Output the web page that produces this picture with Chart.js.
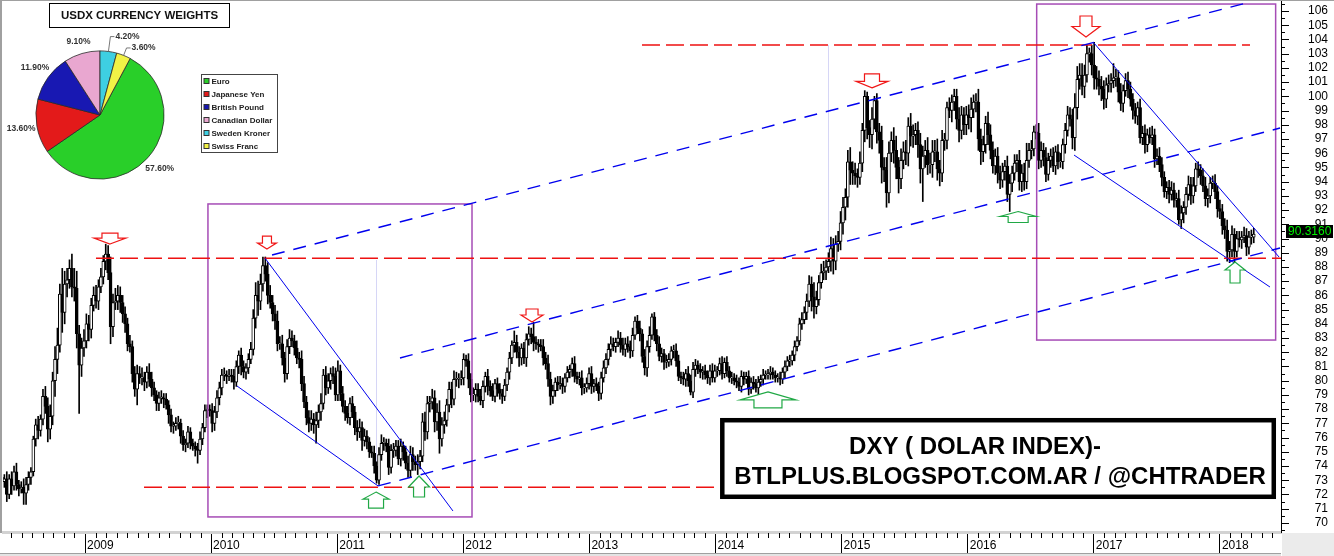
<!DOCTYPE html>
<html>
<head>
<meta charset="utf-8">
<title>DXY weekly</title>
<script src="https://cdn.jsdelivr.net/npm/chart.js@4.4.0/dist/chart.umd.min.js"></script>
<style>
  html, body { margin: 0; padding: 0; background: #fff; }
  #wrap { position: relative; width: 1334px; height: 556px; overflow: hidden; }
  #dxy { position: absolute; left: 0; top: 0; width: 1334px; height: 556px; }
  #weights { position: absolute; left: 0; top: 0; width: 300px; height: 190px; }
</style>
</head>
<body>
<div id="wrap">
  <canvas id="dxy" width="1334" height="556"></canvas>
  <canvas id="weights" width="300" height="190"></canvas>
</div>
<script>
// ---- data ---------------------------------------------------------------
// weekly candles, first bar is the week of 5 May 2008
const firstWeek = '2008-05-05';
const firstOpen = 73.2;

// weekly closes, one line per year
const weeklyClose = [
  72.9,73.1,72.0,73.1, 72.6,73.6,72.7,72.4, 72.5,72.1,72.7,73.2, 73.6,75.9,76.9,76.5,77.3, 78.9,78.2,76.6,77.5, 80.0,81.5,82.5,86.1,84.8, 86.8,87.1,87.9,86.6, 86.5,83.3,81.1,82.3,
  82.8,84.0,83.6,85.3,86.0, 85.6,86.6,87.3,88.4, 88.9,87.6,83.8,85.5, 85.6,86.0,85.5,84.7, 84.0,82.6,82.4,80.5,79.4, 80.5,80.2,80.2,79.9, 80.6,80.1,79.5,79.0,78.4, 78.8,78.8,78.7,78.3, 77.6,76.8,76.8,77.0, 77.0,76.1,75.5,75.6,76.4, 75.6,75.4,75.2,75.1, 75.9,76.7,77.9,78.0,
  77.9,77.0,77.8,78.8,79.5, 80.4,80.4,80.3,80.4, 80.3,79.9,81.0,81.8, 81.0,80.6,80.9,81.5,82.2, 84.4,86.0,85.6,86.8, 88.1,87.5,86.0,85.5, 84.7,84.2,82.6,82.6,81.6, 80.5,82.4,83.0,82.8, 82.3,81.6,81.5,79.8, 78.5,77.4,77.0,77.3,76.9, 77.2,77.8,78.4,80.4, 79.5,80.0,80.5,80.3,79.0,
  80.7,79.1,78.2,77.7, 77.4,78.4,77.8,76.7, 76.4,76.7,75.8,76.1, 75.7,75.0,74.9,74.0,73.0, 74.8,75.6,75.6,75.4, 73.9,75.1,75.1,75.4, 74.5,75.4,75.0,74.2,73.7, 74.8,74.3,74.1,74.3, 74.7,77.1,76.4,78.4,78.5, 78.8,77.1,77.8,75.9, 76.9,77.2,78.3,79.4, 78.7,80.1,80.1,80.1,80.2,
  81.5,81.4,80.1,79.0, 79.0,79.4,78.9,78.6, 79.6,80.3,79.6,79.3,78.9, 79.8,79.4,79.1,78.9, 79.7,80.6,81.6,82.5, 82.7,82.0,81.6,82.3,81.6, 82.9,83.3,83.1,82.7, 82.6,82.5,82.4,81.6,81.2, 80.1,78.9,79.3,79.9, 79.7,79.8,79.6,80.2, 80.6,80.8,81.2,80.3,80.1, 80.2,79.5,79.5,79.8,
  80.5,79.6,79.8,79.6, 79.1,80.2,80.9,81.5, 82.2,82.6,82.4,82.7,83.0, 82.5,82.2,82.6,82.4, 82.1,83.2,84.2,83.7,83.3, 81.7,80.9,82.4,83.2, 84.5,83.2,82.6,81.7, 81.9,81.3,81.3,81.5,82.1, 82.1,81.4,80.3,80.2, 80.1,80.5,80.0,79.2, 80.8,81.1,80.8,80.6,80.7, 80.4,80.2,80.7,80.2,
  80.7,80.7,81.2,80.5,81.3, 80.7,80.2,80.2,80.0, 79.9,79.6,80.3,80.1, 80.3,79.4,79.9,79.8, 79.5,79.9,80.1,80.4,80.4, 80.5,80.6,80.4,80.2, 80.2,80.1,80.6,81.0, 81.4,81.4,81.8,82.4,82.8, 84.0,84.3,84.8,85.6, 86.8,85.9,85.2,85.7,86.9, 87.6,87.7,88.0,88.4, 89.3,88.4,89.6,89.8,
  91.1,92.2,92.9,95.4,94.8, 94.6,94.4,94.3,95.3, 97.6,100.0,97.8,97.3, 98.4,99.7,97.5,96.9, 95.0,94.8,93.2,96.0,96.9, 96.2,95.0,94.2,95.5, 96.1,96.0,97.9,97.2,97.3, 97.6,96.6,94.9,95.8, 96.2,95.2,95.2,96.1, 96.1,94.9,94.6,96.9,96.9, 99.2,99.0,99.6,100.0, 98.4,97.6,98.7,98.0,
  98.7,98.5,99.1,99.6,99.6, 97.0,96.1,96.6,98.1, 97.3,96.2,95.1,95.8, 94.6,94.1,94.7,95.1,93.1, 93.9,94.6,95.3,95.5, 94.0,94.6,94.0,95.5, 96.2,96.3,97.5,97.4,95.5, 96.2,95.7,94.5,95.5, 95.8,95.1,96.1,95.4,95.4, 96.6,97.6,98.7,98.4, 97.1,99.2,101.2,101.5, 100.7,101.5,103.0,103.0,102.2,
  101.3,101.2,100.7,100.5, 99.8,100.8,100.9,101.1, 101.3,101.3,100.3,99.5,100.4, 101.1,100.5,99.8,99.0, 98.6,99.2,97.1,97.4, 96.6,97.3,97.1,97.3,95.6, 95.8,95.2,94.3,93.3, 93.6,93.1,93.4,92.7, 92.8,91.3,91.8,92.2,93.1, 93.8,93.0,93.7,94.9, 94.8,94.4,93.7,92.8, 93.0,93.9,93.9,93.3,92.1,
  91.9,90.9,90.6,89.1, 89.2,90.3,89.1,90.0, 89.9,90.1,90.2,89.4,90.1, 90.1,90.316
];

// wick above the body, tenths of a point
const wickUp = [
  4,3,5,3, 5,4,6,3, 4,6,5,4, 3,2,4,6,3, 5,7,6,8, 6,9,12,7,18, 9,8,6,10, 13,12,6,7,
  8,7,6,5,6, 7,5,6,4, 7,6,11,6, 9,7,6,5, 5,4,6,4,5, 6,5,7,4, 4,6,5,4,3, 4,5,3,4, 3,4,3,4, 5,3,4,3,4, 3,3,3,4, 5,3,4,3,
  3,5,4,5,4, 4,5,3,4, 4,5,4,3, 5,4,3,4,5, 6,9,10,7, 6,6,8,7, 5,6,7,5,6, 4,5,6,5, 4,5,4,6, 5,4,5,6,4, 6,5,7,4, 6,5,4,5,6,
  7,4,5,4, 5,4,5,4, 5,6,4,5, 4,3,4,5,3, 5,6,4,3, 5,4,5,4, 4,5,3,4,5, 6,5,4,5, 4,6,7,5,4, 6,5,6,8, 5,6,4,5, 5,6,5,4,5,
  4,3,5,4, 5,4,4,5, 4,3,5,4,5, 3,4,4,3, 4,3,4,3, 8,5,4,3,4, 4,5,4,10, 4,3,4,5,4, 6,5,4,3, 4,5,4,3, 4,3,4,5,3, 4,5,3,4,
  4,5,3,4, 3,4,5,4, 4,5,4,3,5, 4,5,4,5, 4,5,3,4,5, 3,5,4,6, 2,3,4,5, 4,3,5,4,3, 4,5,4,3, 4,3,5,4, 5,4,3,4,3, 4,3,4,5,
  4,3,4,5,3, 4,3,4,3, 4,3,4,3, 3,4,3,4, 3,4,3,4,3, 3,4,3,3, 3,4,3,4, 3,4,3,4,3, 4,5,4,5, 6,5,10,6,5, 6,7,5,6, 8,7,6,7,
  8,7,6,8,10, 6,7,5,8, 5,4,3,5, 8,3,5,6, 10,7,9,8,6, 9,10,7,8, 7,8,6,9,7, 5,6,8,7, 7,9,8,8, 8,9,6,7,5, 4,7,5,5, 5,8,6,5,
  6,7,8,5,6, 9,7,6,5, 8,7,6,5, 6,5,6,4,7, 6,5,6,4, 7,6,7,12, 5,6,4,5,7, 6,5,7,5, 5,6,4,5,6, 4,5,6,5, 7,10,9,8, 8,7,6,4,6,
  16,8,6,7, 6,5,6,5, 10,6,5,6,4, 5,6,5,4, 5,4,6,5, 6,4,5,6,4, 5,6,5,4, 4,5,6,5, 4,6,5,4,5, 6,5,6,4, 5,4,5,6, 5,4,5,6,4,
  6,5,5,7, 6,6,4,5, 5,4,6,5,4, 5,4
];

// wick below the body, tenths of a point
const wickDown = [
  3,4,5,3, 6,3,4,5, 3,8,8,4, 5,3,5,6,4, 4,5,9,7, 6,11,10,5,14, 8,9,6,7, 9,10,34,8,
  6,5,8,6,4, 5,6,4,5, 6,5,12,7, 5,6,7,6, 6,5,4,6,5, 11,4,5,6, 4,5,6,4,5, 5,4,6,3, 6,4,5,3, 4,5,4,5,3, 4,3,5,9, 3,4,3,5,
  4,6,5,4,5, 5,4,5,3, 4,5,3,5, 6,4,5,4,3, 4,7,10,6, 5,5,6,4, 5,6,5,4,5, 6,4,5,4, 5,4,6,5, 4,5,6,5,6, 13,5,6,4, 5,4,6,5,4,
  4,5,4,5, 4,5,4,5, 6,4,7,4, 5,4,3,5,2, 3,4,5,4, 5,4,5,4, 4,5,6,4,5, 5,6,4,7, 5,4,6,5,6, 5,7,6,10, 5,6,4,5, 6,4,5,6,4,
  5,4,6,5, 4,5,4,3, 5,4,6,4,3, 4,5,4,5, 3,4,5,4, 5,4,6,5,4, 6,4,5,6, 4,5,3,5,4, 5,6,5,4, 4,3,5,4, 3,4,5,4,3, 4,5,4,3,
  4,5,4,3, 5,4,3,4, 4,5,3,4,3, 5,4,5,4, 5,4,3,4,5, 4,5,6,4, 3,4,5,3, 4,5,4,3,4, 5,4,3,4, 4,5,4,2, 4,5,3,4,5, 3,4,5,3,
  3,4,3,4,3, 4,3,4,3, 4,3,4,4, 3,4,3,4, 3,6,3,4,3, 3,4,3,3, 3,4,3,4, 3,4,3,4,3, 3,4,3,5, 4,10,8,5,4, 4,5,6,4, 7,9,6,5,
  6,8,9,7,10, 8,6,7,5, 6,8,8,9, 10,7,8,9, 11,8,10,7,6, 9,8,10,7, 6,8,9,7,8, 7,9,10,23, 8,7,6,9, 7,8,9,6,7, 6,5,8,6, 7,8,6,7,
  7,8,10,6,7, 8,9,7,6, 7,6,5,6, 7,6,5,6,5, 12,6,5,6, 6,7,6,5, 5,6,5,4,6, 5,6,5,4, 5,4,6,5,4, 5,6,4,5, 8,9,8,7, 6,8,5,6,7,
  8,7,6,8, 7,6,5,6, 5,6,7,5,6, 4,6,5,6, 5,6,4,5, 6,5,4,5,6, 4,5,6,4, 5,6,4,5, 5,3,6,7,5, 4,6,5,4, 5,6,4,5, 6,5,4,5,6,
  5,6,6,7, 8,5,9,4, 5,6,4,6,5, 5,4
];

const yearLabels = [2009, 2010, 2011, 2012, 2013, 2014, 2015, 2016, 2017, 2018];
const priceTicks = [70,71,72,73,74,75,76,77,78,79,80,81,82,83,84,85,86,87,88,
                    89,90,91,92,93,94,95,96,97,98,99,100,101,102,103,104,105,106];

const currencyNames = ['Euro', 'Japanese Yen', 'British Pound', 'Canadian Dollar', 'Sweden Kroner', 'Swiss Franc'];
const currencyWeights = [57.6, 13.6, 11.9, 9.1, 4.2, 3.6];
const currencyColors = ['#29cf29', '#e31a1a', '#1818b2', '#e9a7d0', '#3ecfe2', '#f2f246'];

// ---- drawings on the chart (decimal year, index value) -----------------
const redLevels = [            // value, from, to
  [88.62, 2009.087, 2018.49],
  [72.50, 2009.468, 2014.004],
  [103.61, 2013.417, 2018.239]
];
const channelLines = [
  [2010.483, 88.84, 2018.239, 106.63],
  [2011.498, 81.60, 2018.477, 97.77],
  [2011.324, 72.60, 2018.477, 89.33]
];
const wedgeLines = [
  [2010.427, 88.63, 2011.918, 70.84],
  [2010.205, 79.63, 2011.324, 72.60],
  [2017.001, 103.75, 2018.469, 88.70],
  [2016.843, 95.87, 2018.397, 86.59]
];
const boxes = [
  [2009.975, 92.43, 2012.069, 70.42],
  [2016.547, 106.49, 2018.442, 82.86]
];
const faintMarkers = [[2011.308, 88.49, 72.67], [2014.892, 103.61, 88.49]];
// tip position + [head half width, head length, stem half width, stem length] in px
const topArrows = [
  [2009.198, 89.61, [16, 6, 8, 5]],
  [2010.443, 89.26, [9.5, 6, 4.5, 7]],
  [2012.545, 84.13, [11, 7, 6, 6]],
  [2015.241, 100.59, [16, 6.5, 7.5, 7.5]],
  [2016.938, 104.17, [14, 10.5, 6, 10.5]]
];
const bottomArrows = [
  [2011.308, 72.17, [13, 7, 7.5, 9]],
  [2011.649, 73.30, [10.5, 11, 5.5, 10]],
  [2014.416, 79.21, [28, 8, 14, 8]],
  [2016.400, 91.90, [18, 5, 10, 6]],
  [2018.120, 88.35, [10, 8, 5, 13]]
];
const noteBox = [2014.036, 77.38, 2018.445, 71.68];

// ---- build candles ------------------------------------------------------
function toYear(d) {
  const y = d.getUTCFullYear();
  const a = Date.UTC(y, 0, 1), b = Date.UTC(y + 1, 0, 1);
  return y + (d.getTime() - a) / (b - a);
}
const start = new Date(firstWeek + 'T00:00:00Z');
const candles = weeklyClose.map((c, i) => {
  const o = i === 0 ? firstOpen : weeklyClose[i - 1];
  const d = new Date(start.getTime() + i * 7 * 86400000);
  return {
    t: toYear(d), o: o, c: c,
    h: Math.max(o, c) + (wickUp[i] || 0) / 10,
    l: Math.min(o, c) - (wickDown[i] || 0) / 10
  };
});

const FONT = '"Liberation Sans", Arial, Helvetica, sans-serif';
Chart.defaults.font.family = FONT;

function drawArrow(ctx, x, y, dir, size, color) {
  // dir 1: tip at the bottom, -1: tip at the top
  const [hw, hl, sw, sl] = size;
  const b = y - dir * hl, e = b - dir * sl;
  ctx.beginPath();
  ctx.moveTo(x, y);
  ctx.lineTo(x + hw, b); ctx.lineTo(x + sw, b); ctx.lineTo(x + sw, e);
  ctx.lineTo(x - sw, e); ctx.lineTo(x - sw, b); ctx.lineTo(x - hw, b);
  ctx.closePath();
  ctx.fillStyle = '#fff'; ctx.fill();
  ctx.strokeStyle = color; ctx.lineWidth = 1.2; ctx.stroke();
}

const overlay = {
  id: 'overlay',
  beforeDraw(chart) {
    const ctx = chart.ctx;
    ctx.save();
    ctx.fillStyle = '#fff';
    ctx.fillRect(0, 0, chart.width, chart.height);
    ctx.restore();
  },
  beforeDatasetsDraw(chart) {
    const ctx = chart.ctx, X = chart.scales.x, Y = chart.scales.y;
    ctx.save();
    ctx.strokeStyle = '#d6d6f6'; ctx.lineWidth = 1;
    faintMarkers.forEach(([t, v1, v2]) => {
      const x = Math.round(X.getPixelForValue(t)) + 0.5;
      ctx.beginPath(); ctx.moveTo(x, Y.getPixelForValue(v1)); ctx.lineTo(x, Y.getPixelForValue(v2)); ctx.stroke();
    });
    ctx.restore();
  },
  afterDatasetsDraw(chart) {
    const ctx = chart.ctx, X = chart.scales.x, Y = chart.scales.y, a = chart.chartArea;
    const px = t => X.getPixelForValue(t), py = v => Y.getPixelForValue(v);
    const seg = (t1, v1, t2, v2) => {
      ctx.beginPath(); ctx.moveTo(px(t1), py(v1)); ctx.lineTo(px(t2), py(v2)); ctx.stroke();
    };
    ctx.save();
    ctx.beginPath(); ctx.rect(a.left, a.top, a.right - a.left, a.bottom - a.top); ctx.clip();

    // magenta frames
    ctx.strokeStyle = '#a64cb6'; ctx.lineWidth = 1.5;
    boxes.forEach(([t1, v1, t2, v2]) => {
      ctx.strokeRect(px(t1), py(v1), px(t2) - px(t1), py(v2) - py(v1));
    });

    // red dashed levels
    ctx.strokeStyle = '#ee1111'; ctx.lineWidth = 1.5; ctx.setLineDash([18, 6]);
    redLevels.forEach(([v, t1, t2]) => seg(t1, v, t2, v));

    // blue channel (dashed)
    ctx.strokeStyle = '#0000ee'; ctx.lineWidth = 1.4; ctx.setLineDash([13, 9]);
    channelLines.forEach(l => seg(...l));

    // blue wedges (solid)
    ctx.setLineDash([]); ctx.lineWidth = 1;
    wedgeLines.forEach(l => seg(...l));

    // arrows
    topArrows.forEach(([t, v, s]) => drawArrow(ctx, px(t), py(v), 1, s, '#f01818'));
    bottomArrows.forEach(([t, v, s]) => drawArrow(ctx, px(t), py(v), -1, s, '#20a845'));

    // note box
    const [bt1, bv1, bt2, bv2] = noteBox;
    const bx = px(bt1), by = py(bv1), bw = px(bt2) - bx, bh = py(bv2) - by;
    ctx.fillStyle = '#fff'; ctx.fillRect(bx, by, bw, bh);
    ctx.strokeStyle = '#000'; ctx.lineWidth = 4.5;
    ctx.strokeRect(bx + 2.25, by + 2.25, bw - 4.5, bh - 4.5);
    ctx.fillStyle = '#000'; ctx.font = 'bold 24px ' + FONT; ctx.textBaseline = 'alphabetic';
    ctx.textAlign = 'left';
    ctx.fillText('DXY ( DOLAR INDEX)-', bx + 129, by + 36);
    ctx.textAlign = 'center';
    ctx.fillText('BTLPLUS.BLOGSPOT.COM.AR / @CHTRADER', bx + bw / 2 + 2, by + 66);
    ctx.restore();
  },
  afterDraw(chart) {
    const ctx = chart.ctx, X = chart.scales.x, Y = chart.scales.y, a = chart.chartArea;
    ctx.save();
    ctx.strokeStyle = '#000'; ctx.lineWidth = 1;
    ctx.beginPath();
    // monthly ticks under the plot
    for (let y = 2008; y <= 2018; y++) {
      for (let m = 1; m < 12; m++) {
        const t = y + m / 12;
        if (t < X.min || t > X.max) continue;
        const x = Math.round(X.getPixelForValue(t)) + 0.5;
        ctx.moveTo(x, a.bottom + 1); ctx.lineTo(x, a.bottom + 6);
      }
    }
    // price axis ticks: long on whole points, short on halves
    priceTicks.forEach(v => {
      const y = Math.round(Y.getPixelForValue(v)) + 0.5;
      ctx.moveTo(a.right, y); ctx.lineTo(a.right + 8, y);
    });
    for (let v = priceTicks[0] - 0.5; v <= priceTicks[priceTicks.length - 1] + 0.5; v += 1) {
      const y = Math.round(Y.getPixelForValue(v)) + 0.5;
      ctx.moveTo(a.right, y); ctx.lineTo(a.right + 4, y);
    }
    ctx.stroke();

    // frame bits
    ctx.fillStyle = '#a0a0a0';
    ctx.fillRect(0, 0, 2, a.bottom + 1);
    ctx.fillRect(0, 0, chart.width, 1);
    ctx.fillRect(0, 553, a.right, 1);
    ctx.fillStyle = '#e4e4e4';
    ctx.fillRect(0, 554, a.right, 2);
    ctx.fillStyle = '#ebebeb';
    ctx.fillRect(a.right + 1, a.bottom + 1, chart.width - a.right - 1, chart.height - a.bottom - 1);

    // last value tag
    const last = weeklyClose[weeklyClose.length - 1];
    const ly = Math.round(Y.getPixelForValue(last)) - 3;
    ctx.fillStyle = '#000';
    ctx.fillRect(a.right + 5, ly - 6, 47, 13);
    ctx.fillStyle = '#00ee00'; ctx.font = '12px ' + FONT;
    ctx.textAlign = 'left'; ctx.textBaseline = 'middle';
    ctx.fillText(last.toFixed(4), a.right + 7, ly + 0.5);
    ctx.restore();
  }
};

new Chart(document.getElementById('dxy'), {
  type: 'bar',
  data: {
    datasets: [
      {
        label: 'range',
        data: candles.map(k => ({ x: k.t, y: [k.l, k.h] })),
        backgroundColor: '#000',
        barThickness: 1,
        grouped: false,
        order: 2
      },
      {
        label: 'body',
        data: candles.map(k => ({ x: k.t, y: [k.o, k.c] })),
        backgroundColor: c => {
          const k = candles[c.dataIndex];
          return k && k.c >= k.o ? '#fff' : '#000';
        },
        borderColor: '#000',
        borderWidth: 1,
        borderSkipped: false,
        barThickness: 3,
        minBarLength: 1,
        grouped: false,
        order: 1
      }
    ]
  },
  options: {
    responsive: false,
    animation: false,
    devicePixelRatio: 1,
    events: [],
    layout: { padding: { left: 3, top: 1, right: 6, bottom: 0 } },
    plugins: { legend: { display: false }, tooltip: { enabled: false } },
    scales: {
      x: {
        type: 'linear',
        min: 2008.3497,
        max: 2018.4845,
        offset: false,
        afterBuildTicks: s => { s.ticks = yearLabels.map(v => ({ value: v })); },
        afterFit: s => { s.height = 24; },
        grid: { drawOnChartArea: false, drawTicks: true, tickLength: 21, tickColor: '#000', offset: false },
        border: { display: true, color: '#d2d2d2', width: 3 },
        ticks: {
          align: 'start', labelOffset: 2, padding: -15, autoSkip: false, maxRotation: 0,
          color: '#000', font: { size: 12 }, callback: v => String(v)
        }
      },
      y: {
        position: 'right',
        min: 69.361,
        max: 106.7032,
        afterBuildTicks: s => { s.ticks = priceTicks.map(v => ({ value: v })); },
        afterFit: s => { s.width = 47; },
        // tick marks are drawn by the plugin
        grid: { drawOnChartArea: false, drawTicks: true, tickLength: 8, tickColor: 'rgba(0,0,0,0)' },
        border: { display: true, color: '#000', width: 1 },
        ticks: {
          crossAlign: 'far', padding: 0, color: '#000',
          font: { size: 12, lineHeight: 0.1 }, callback: v => String(v)
        }
      }
    }
  },
  plugins: [overlay]
});

// ---- currency weights inset ---------------------------------------------
const pieDecor = {
  id: 'pieDecor',
  afterDraw(chart) {
    const ctx = chart.ctx;
    const arcs = chart.getDatasetMeta(0).data;
    ctx.save();
    // title
    ctx.fillStyle = '#fff'; ctx.fillRect(49.5, 3.5, 180, 24);
    ctx.strokeStyle = '#000'; ctx.lineWidth = 1; ctx.strokeRect(49.5, 3.5, 180, 24);
    ctx.fillStyle = '#111'; ctx.font = 'bold 11.5px ' + FONT;
    ctx.textAlign = 'center'; ctx.textBaseline = 'middle';
    ctx.fillText('USDX CURRENCY WEIGHTS', 139.5, 16);

    // percentages
    ctx.font = 'bold 8.5px ' + FONT; ctx.fillStyle = '#333'; ctx.strokeStyle = '#555'; ctx.lineWidth = 0.8;
    arcs.forEach((arc, i) => {
      const p = arc.getProps(['x', 'y', 'startAngle', 'endAngle', 'outerRadius'], true);
      const mid = (p.startAngle + p.endAngle) / 2;
      const cx = Math.cos(mid), cy = Math.sin(mid);
      const text = currencyWeights[i].toFixed(2) + '%';
      if (currencyWeights[i] < 5) {
        const ex = p.x + cx * p.outerRadius, ey = p.y + cy * p.outerRadius;
        const k = i === 4 ? 15 : 8;
        const kx = p.x + cx * (p.outerRadius + k), ky = p.y + cy * (p.outerRadius + k);
        ctx.beginPath(); ctx.moveTo(ex, ey); ctx.lineTo(kx, ky); ctx.lineTo(kx + 4, ky); ctx.stroke();
        ctx.textAlign = 'left';
        ctx.fillText(text, kx + 5, ky);
      } else {
        const r = p.outerRadius + (i === 3 ? 12 : 16);
        ctx.textAlign = 'center';
        ctx.fillText(text, p.x + cx * r, p.y + cy * r);
      }
    });

    // legend
    ctx.strokeStyle = '#444'; ctx.lineWidth = 1;
    ctx.strokeRect(201.5, 74.5, 76, 78);
    ctx.font = 'bold 8px ' + FONT; ctx.textAlign = 'left'; ctx.textBaseline = 'middle';
    currencyNames.forEach((name, i) => {
      const y = 81 + i * 13;
      ctx.fillStyle = currencyColors[i]; ctx.fillRect(204, y - 2.5, 5, 5);
      ctx.strokeStyle = '#333'; ctx.strokeRect(204, y - 2.5, 5, 5);
      ctx.fillStyle = '#222'; ctx.fillText(name, 211.5, y + 0.5);
    });
    ctx.restore();
  }
};

new Chart(document.getElementById('weights'), {
  type: 'pie',
  data: {
    labels: currencyNames,
    datasets: [{
      data: currencyWeights,
      backgroundColor: currencyColors,
      borderColor: '#2a2a2a',
      borderWidth: 0.8
    }]
  },
  options: {
    responsive: false,
    animation: false,
    devicePixelRatio: 1,
    events: [],
    rotation: 28.08,
    layout: { padding: { left: 35.5, top: 50.5, right: 135.5, bottom: 10.5 } },
    plugins: { legend: { display: false }, tooltip: { enabled: false } }
  },
  plugins: [pieDecor]
});
</script>
</body>
</html>
